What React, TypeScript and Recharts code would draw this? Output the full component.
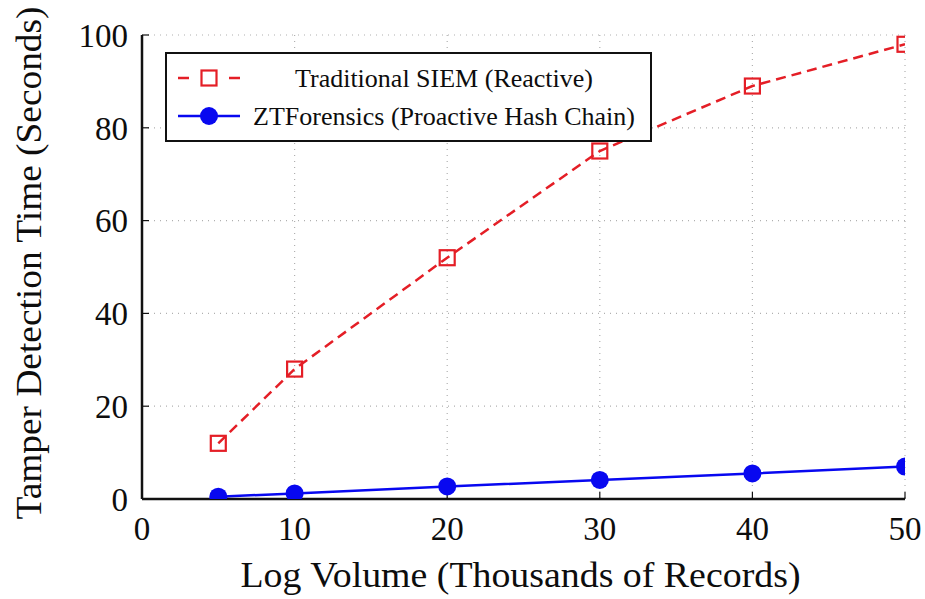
import React from 'react';
import { LineChart, Line, XAxis, YAxis, CartesianGrid, Legend } from 'recharts';

const logVolume = [5, 10, 20, 30, 40, 50];
const siemTime = [12, 28, 52, 75, 89, 98];
const ztTime = [0.5, 1.2, 2.7, 4.1, 5.5, 7.0];
const xTicks = [0, 10, 20, 30, 40, 50];
const yTicks = [0, 20, 40, 60, 80, 100];
const seriesNames = ['Traditional SIEM (Reactive)', 'ZTForensics (Proactive Hash Chain)'];
const xTitle = 'Log Volume (Thousands of Records)';
const yTitle = 'Tamper Detection Time (Seconds)';

const RED = '#e41e26';
const BLUE = '#0808f0';
const FONT = '"Liberation Serif", "Times New Roman", serif';
const INK = '#0d0d0d';

const data = logVolume.map((v, i) => ({ x: v, siem: siemTime[i], zt: ztTime[i] }));

const SquareDot = (props: any) => {
  const { cx, cy, index } = props;
  if (cx == null || cy == null) return null;
  return (
    <rect key={`sq-${index}`} x={cx - 7.5} y={cy - 7.5} width={15} height={15}
      fill="none" stroke={RED} strokeWidth={2.2} />
  );
};

const renderLegend = () => (
  <div style={{ width: 487, height: 90, boxSizing: 'border-box', border: '2.5px solid #111', background: '#fff' }}>
    <svg width={483} height={86} style={{ display: 'block' }}>
      <line x1={11} x2={22} y1={24} y2={24} stroke={RED} strokeWidth={2.5} />
      <line x1={62} x2={73} y1={24} y2={24} stroke={RED} strokeWidth={2.5} />
      <rect x={34.5} y={16.5} width={15} height={15} fill="#fff" stroke={RED} strokeWidth={2.2} />
      <text x={277} y={24} dy="0.35em" textAnchor="middle" fontFamily={FONT} fontSize={26} fill={INK}>{seriesNames[0]}</text>
      <line x1={11} x2={73} y1={62} y2={62} stroke={BLUE} strokeWidth={2.5} />
      <circle cx={42} cy={62} r={9} fill={BLUE} />
      <text x={277} y={62} dy="0.35em" textAnchor="middle" fontFamily={FONT} fontSize={26} fill={INK}>{seriesNames[1]}</text>
    </svg>
  </div>
);

const XTitle = (props: any) => {
  const vb = props.viewBox || {};
  return (
    <text x={vb.x + vb.width / 2 - 3} y={vb.y + 88} textAnchor="middle" fontFamily={FONT}
      fontSize={35} fill={INK} textLength={560} lengthAdjust="spacingAndGlyphs">{xTitle}</text>
  );
};

const YTitle = (props: any) => {
  const vb = props.viewBox || {};
  const cx = 41;
  const cy = vb.y + vb.height / 2 - 4;
  return (
    <text x={cx} y={cy} transform={`rotate(-90, ${cx}, ${cy})`} textAnchor="middle" fontFamily={FONT}
      fontSize={35} fill={INK} textLength={513} lengthAdjust="spacingAndGlyphs">{yTitle}</text>
  );
};

const tickStyle = { fontFamily: FONT, fontSize: 33, fill: INK };

export default function App() {
  return (
    <div style={{ position: 'absolute', left: 0, top: 0, width: 925, height: 599, background: '#fff' }}>
      <LineChart width={925} height={599} data={data} margin={{ top: 35, right: 20, bottom: 0, left: 0 }}>
        <CartesianGrid stroke="#b0b0b0" strokeDasharray="1 5" strokeWidth={1.2} />
        <XAxis dataKey="x" type="number" domain={[0, 50]} ticks={xTicks} height={100}
          axisLine={{ stroke: '#111', strokeWidth: 2.5 }} tickLine={{ stroke: '#111', strokeWidth: 1.2 }}
          tickSize={-7} tickMargin={25} tick={tickStyle} label={<XTitle />} allowDataOverflow />
        <XAxis xAxisId="top" orientation="top" type="number" domain={[0, 50]} ticks={xTicks} height={0}
          mirror tick={false} tickSize={7} axisLine={{ stroke: '#111', strokeWidth: 2.5 }}
          tickLine={{ stroke: '#111', strokeWidth: 1.2 }} allowDataOverflow />
        <YAxis type="number" domain={[0, 100]} ticks={yTicks} width={142}
          axisLine={{ stroke: '#111', strokeWidth: 2.5 }} tickLine={{ stroke: '#111', strokeWidth: 1.2 }}
          tickSize={-7} tickMargin={21} tick={tickStyle} label={<YTitle />} allowDataOverflow />
        <YAxis yAxisId="right" orientation="right" type="number" domain={[0, 100]} ticks={yTicks} width={0}
          mirror tick={false} tickSize={7} axisLine={{ stroke: '#111', strokeWidth: 2.5 }}
          tickLine={{ stroke: '#111', strokeWidth: 1.2 }} allowDataOverflow />
        <Legend layout="vertical" align="center" verticalAlign="middle" content={renderLegend}
          wrapperStyle={{ left: 165, top: 52, width: 487, height: 90 }} />
        <Line type="linear" dataKey="siem" name={seriesNames[0]} stroke={RED} strokeWidth={2.5}
          strokeDasharray="10 6" dot={SquareDot} activeDot={false} isAnimationActive={false} />
        <Line type="linear" dataKey="zt" name={seriesNames[1]} stroke={BLUE} strokeWidth={2.5}
          dot={{ r: 9, fill: BLUE, stroke: 'none' }} activeDot={false} isAnimationActive={false} />
      </LineChart>
    </div>
  );
}
